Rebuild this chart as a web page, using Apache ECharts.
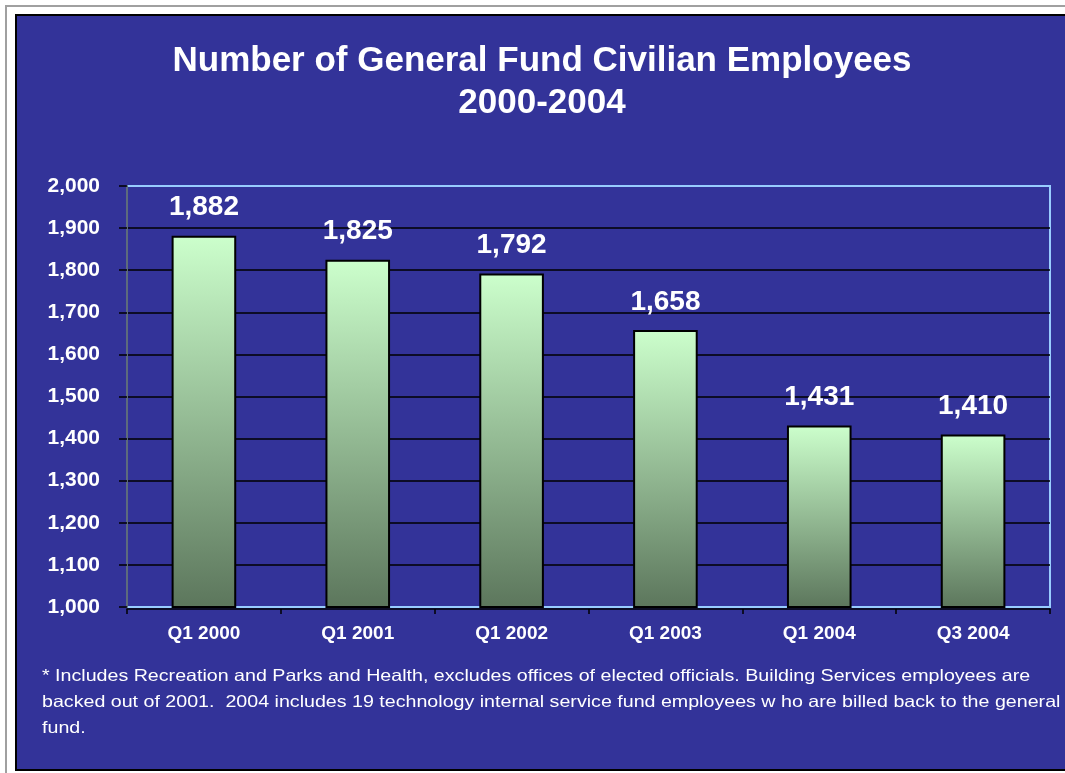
<!DOCTYPE html>
<html>
<head>
<meta charset="utf-8">
<script src="https://cdn.jsdelivr.net/npm/echarts@6/dist/echarts.min.js"></script>
<style>
  html, body { margin: 0; padding: 0; background: #ffffff; overflow: hidden; }
  #chart { width: 1065px; height: 773px; }
</style>
</head>
<body>
<div id="chart"></div>
<script>
// Headcount by quarter
const categories = ['Q1 2000', 'Q1 2001', 'Q1 2002', 'Q1 2003', 'Q1 2004', 'Q3 2004'];
const employees = [1882, 1825, 1792, 1658, 1431, 1410];
const titleLines = ['Number of General Fund Civilian Employees', '2000-2004'];
const noteLines = [
  '* Includes Recreation and Parks and Health, excludes offices of elected officials. Building Services employees are',
  'backed out of 2001.  2004 includes 19 technology internal service fund employees w ho are billed back to the general',
  'fund.'
];

const FONT = '"Liberation Sans", Arial, Helvetica, sans-serif';
const fmt = v => v.toLocaleString('en-US');

const chart = echarts.init(document.getElementById('chart'), null, { renderer: 'canvas' });

const graphics = [
  // page frame
  { type: 'rect', z: -10, shape: { x: 6, y: 6, width: 1100, height: 780 },
    style: { fill: '#ffffff', stroke: '#a0a0a0', lineWidth: 2 }, silent: true },
  // blue panel
  { type: 'rect', z: -9, shape: { x: 16, y: 15, width: 1090, height: 755 },
    style: { fill: '#333399', stroke: '#000000', lineWidth: 2 }, silent: true }
];

titleLines.forEach((t, i) => {
  graphics.push({
    type: 'text', x: 542, y: 61 + i * 42, silent: true,
    style: { text: t, fill: '#ffffff', font: 'bold 35px ' + FONT,
             textAlign: 'center', textVerticalAlign: 'middle' }
  });
});

noteLines.forEach((t, i) => {
  graphics.push({
    type: 'text', x: 42, y: 676 + i * 26, scaleX: 1.19, silent: true,
    style: { text: t, fill: '#ffffff', font: '16.5px ' + FONT,
             textAlign: 'left', textVerticalAlign: 'middle' }
  });
});

// gridline colours, bottom to top: light edge lines at 1,000 and 2,000
const gridColors = ['#99ccff', '#000000', '#000000', '#000000', '#000000', '#000000',
                    '#000000', '#000000', '#000000', '#000000', '#99ccff'];

chart.setOption({
  animation: false,
  backgroundColor: 'transparent',
  graphic: graphics,
  grid: {
    left: 127, right: 15, top: 186, bottom: 166,
    show: true, borderColor: '#99ccff', borderWidth: 2, backgroundColor: 'transparent'
  },
  xAxis: {
    type: 'category',
    data: categories,
    offset: 2,
    axisLine: { lineStyle: { color: '#000000', width: 1.5 } },
    axisTick: { show: true, length: 5, lineStyle: { color: '#000000', width: 1.5 } },
    axisLabel: { color: '#ffffff', fontFamily: FONT, fontWeight: 'bold', fontSize: 19, margin: 15 },
    splitLine: { show: false }
  },
  yAxis: {
    type: 'value',
    min: 1000, max: 2000, interval: 100,
    axisLine: { show: true, lineStyle: { color: '#5d6b7d', width: 2 } },
    axisTick: { show: true, length: 8, lineStyle: { color: '#000000', width: 1.5 } },
    axisLabel: { color: '#ffffff', fontFamily: FONT, fontWeight: 'bold', fontSize: 21, margin: 27,
                 formatter: v => fmt(v) },
    splitLine: { lineStyle: { color: gridColors, width: 1.5 } }
  },
  series: [{
    type: 'bar',
    data: employees,
    barWidth: '42%',
    itemStyle: {
      color: new echarts.graphic.LinearGradient(0, 0, 0, 1, [
        { offset: 0, color: '#ccffcc' },
        { offset: 1, color: '#5c765c' }
      ]),
      borderColor: '#000000',
      borderWidth: 2
    },
    label: {
      show: true, position: 'top', distance: 14,
      color: '#ffffff', fontFamily: FONT, fontWeight: 'bold', fontSize: 28,
      formatter: p => fmt(p.value)
    }
  }]
});
</script>
</body>
</html>
